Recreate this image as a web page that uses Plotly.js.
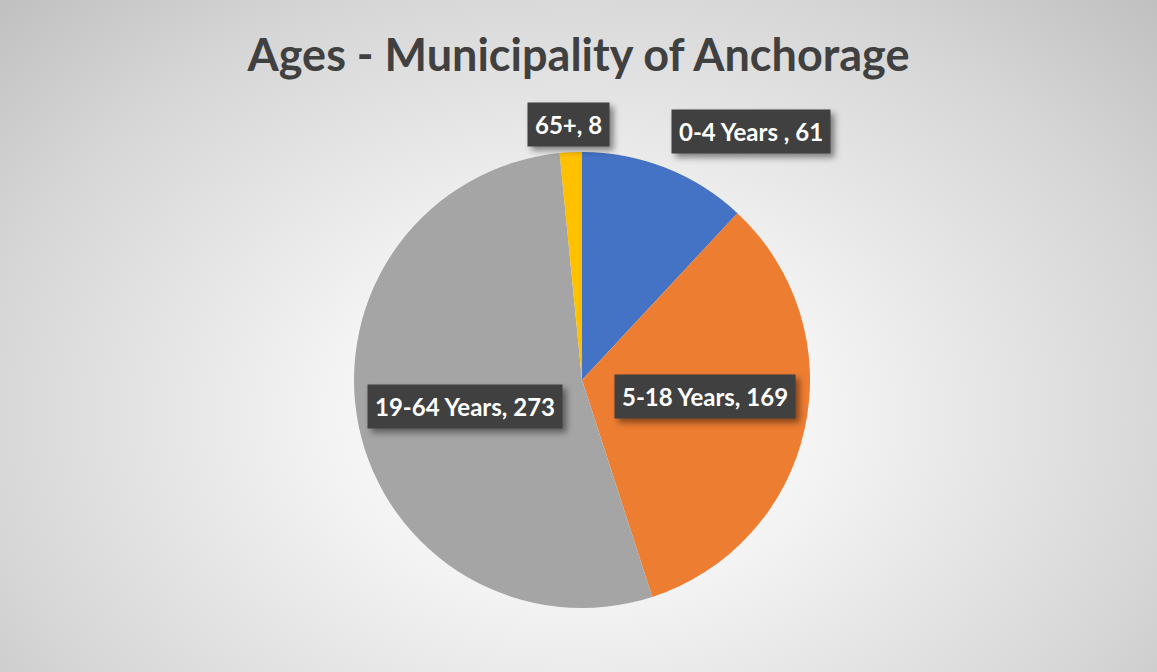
<!DOCTYPE html>
<html><head><meta charset="utf-8">
<script src="https://cdn.plot.ly/plotly-3.0.1.min.js"></script>
<style>
html,body{margin:0;padding:0;}
body{width:1157px;height:672px;overflow:hidden;
background:radial-gradient(ellipse 72% 92% at 50% 62%, #ffffff 0%, #f3f3f3 30%, #d6d6d6 72%, #bdbdbd 100%);}
#chart{width:1157px;height:672px;}
.annotation rect.bg{filter:drop-shadow(4px 4px 3px rgba(0,0,0,0.45));}
</style></head><body>
<div id="chart"></div>
<script>
const categories = ["0-4 Years ", "5-18 Years", "19-64 Years", "65+"];
const values = [61, 169, 273, 8];
const colors = ["#4472C4", "#ED7D31", "#A5A5A5", "#FFC000"];
const labelPos = [[751,132],[705,396],[465,406],[568,124]];

const W=1157,H=672;
const trace = {
  type:'pie', labels:categories, values:values, sort:false, direction:'clockwise', rotation:0,
  marker:{colors:colors, line:{width:0}}, textinfo:'none', hoverinfo:'label+value',
  domain:{x:[(582-228)/W,(582+228)/W], y:[(292-228)/H,(292+228)/H]}
};
const ann=[];
categories.forEach((c,i)=>{
  const t = c + ", " + values[i];
  const [px,py]=labelPos[i];
  ann.push({xref:'paper',yref:'paper',x:px/W,y:1-py/H,text:'<b>'+t+'</b>',showarrow:false,
    font:{family:'Lato, Open Sans, sans-serif',size:24,color:'#ffffff'},
    bgcolor:'#404040',borderpad:7,xanchor:'center',yanchor:'middle'});
});
const layout={
  width:W,height:H,margin:{l:0,r:0,t:0,b:0},
  paper_bgcolor:'rgba(0,0,0,0)',plot_bgcolor:'rgba(0,0,0,0)',showlegend:false,
  title:{text:'<b>Ages - Municipality of Anchorage</b>',x:0.5,xanchor:'center',y:1-55/H,yanchor:'middle',
    font:{family:'Lato, Open Sans, sans-serif',size:45,color:'#404040'}},
  annotations:ann
};
Plotly.newPlot('chart',[trace],layout,{displayModeBar:false});
</script></body></html>
